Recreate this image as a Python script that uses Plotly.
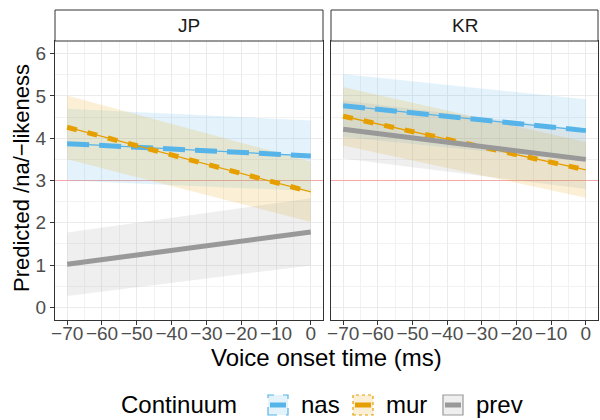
import plotly.graph_objects as go
from plotly.subplots import make_subplots

# ---- data ----
panels = ["JP", "KR"]
continua = ["nas", "mur", "prev"]
vot = [-70, 0]

# predicted line values at vot endpoints
fit = {
    "JP": {"nas": [3.87, 3.58], "mur": [4.26, 2.73], "prev": [1.02, 1.78]},
    "KR": {"nas": [4.77, 4.18], "mur": [4.52, 3.25], "prev": [4.21, 3.50]},
}
lower = {
    "JP": {"nas": [3.00, 2.75], "mur": [3.50, 2.02], "prev": [0.27, 0.99]},
    "KR": {"nas": [4.03, 3.45], "mur": [3.83, 2.59], "prev": [3.52, 2.80]},
}
upper = {
    "JP": {"nas": [4.70, 4.42], "mur": [5.01, 3.45], "prev": [1.77, 2.58]},
    "KR": {"nas": [5.52, 4.92], "mur": [5.21, 3.91], "prev": [4.89, 4.20]},
}
x_ticks = [-70, -60, -50, -40, -30, -20, -10, 0]
y_ticks = [0, 1, 2, 3, 4, 5, 6]
ref_line = 3
legend_title = "Continuum"

# ---- styles ----
colors = {"nas": (86, 180, 233), "mur": (230, 159, 0), "prev": (153, 153, 153)}
dashes = {"nas": "22px,10px", "mur": "10px,11px", "prev": "solid"}
key_border = {"nas": "dash", "mur": "dot", "prev": "solid"}
FONT = "Liberation Sans, Arial, sans-serif"

L, R, T, B, W, H = 55, 2, 41, 100, 600, 420
PW, PH = W - L - R, H - T - B

def px_x(px):
    return (px - L) / PW

def px_y(py):
    return (H - B - py) / PH

def rgb(c, a=1.0):
    return f"rgba({c[0]},{c[1]},{c[2]},{a})"

fig = make_subplots(rows=1, cols=2, shared_yaxes=True, horizontal_spacing=0.0128)

for pi, p in enumerate(panels):
    col = pi + 1
    fig.add_trace(go.Scatter(x=[-73.5, 3.5], y=[ref_line, ref_line], mode="lines",
                             line=dict(color="rgba(248,140,140,0.7)", width=1),
                             showlegend=False, hoverinfo="skip"), row=1, col=col)
    for c in continua:
        fig.add_trace(go.Scatter(x=vot, y=lower[p][c], mode="lines", line=dict(width=0),
                                 showlegend=False, hoverinfo="skip"), row=1, col=col)
        fig.add_trace(go.Scatter(x=vot, y=upper[p][c], mode="lines", line=dict(width=0),
                                 fill="tonexty", fillcolor=rgb(colors[c], 0.16),
                                 showlegend=False, hoverinfo="skip"), row=1, col=col)
    for c in continua:
        if c != "prev":
            fig.add_trace(go.Scatter(x=vot, y=fit[p][c], mode="lines",
                                     line=dict(color=rgb(colors[c]), width=1.3),
                                     showlegend=False, hoverinfo="skip"), row=1, col=col)
        fig.add_trace(go.Scatter(x=vot, y=fit[p][c], mode="lines",
                                 line=dict(color=rgb(colors[c]), width=5, dash=dashes[c]),
                                 showlegend=False, hoverinfo="skip"), row=1, col=col)

axis_common = dict(
    showline=True, mirror=True, linecolor="#333333", linewidth=1,
    showgrid=True, gridcolor="#EBEBEB", gridwidth=1.1,
    ticks="outside", ticklen=4, tickcolor="#333333",
    tickfont=dict(family=FONT, size=19, color="#4D4D4D"),
    zeroline=False,
)
minor_x = dict(dtick=5, tick0=0, showgrid=True, gridcolor="#F2F2F2", gridwidth=0.6)
minor_y = dict(dtick=0.5, tick0=0, showgrid=True, gridcolor="#F2F2F2", gridwidth=0.6)
for ax in ["xaxis", "xaxis2"]:
    fig.layout[ax].update(**axis_common, range=[-73.5, 3.5], tickvals=x_ticks, minor=minor_x,
                          ticklabelstandoff=-8)
for ax in ["yaxis", "yaxis2"]:
    fig.layout[ax].update(**axis_common, range=[-0.3, 6.3], tickvals=y_ticks, minor=minor_y)
fig.layout["yaxis2"].update(showticklabels=False, ticks="")

dom1 = [0, px_x(323)]
dom2 = [px_x(331), 1.0]
fig.layout.xaxis.domain = dom1
fig.layout.xaxis2.domain = dom2

shapes = []
annotations = []
# strips
for dom, p in [(dom1, "JP"), (dom2, "KR")]:
    shapes.append(dict(type="rect", xref="paper", yref="paper", x0=dom[0], x1=dom[1],
                       y0=1.0, y1=px_y(10), line=dict(color="#333333", width=1), fillcolor="white"))
    annotations.append(dict(text=p, xref="paper", yref="paper", x=(dom[0] + dom[1]) / 2,
                            y=(1.0 + px_y(10)) / 2, showarrow=False, xanchor="center",
                            yanchor="middle",
                            font=dict(family=FONT, size=19, color="#1A1A1A")))
# axis titles
annotations.append(dict(text="Voice onset time (ms)", xref="paper", yref="paper", x=px_x(326),
                        y=px_y(357), showarrow=False, xanchor="center", yanchor="middle",
                        font=dict(family=FONT, size=24, color="black")))
annotations.append(dict(text="Predicted /na/−likeness", xref="paper", yref="paper",
                        x=px_x(21), y=px_y(178), showarrow=False, xanchor="center",
                        yanchor="middle", textangle=-90,
                        font=dict(family=FONT, size=22, color="black")))

# legend (drawn manually)
LEG_Y = 405
annotations.append(dict(text=legend_title, xref="paper", yref="paper", x=px_x(119), y=px_y(LEG_Y),
                        showarrow=False, xanchor="left", yanchor="middle",
                        font=dict(family=FONT, size=24, color="black")))
key_x = {"nas": 268, "mur": 353, "prev": 443}
for c in continua:
    x0 = key_x[c]
    shapes.append(dict(type="rect", xref="paper", yref="paper", x0=px_x(x0), x1=px_x(x0 + 20),
                       y0=px_y(LEG_Y + 10), y1=px_y(LEG_Y - 10),
                       line=dict(color=rgb(colors[c]), width=1.2, dash=key_border[c]),
                       fillcolor=rgb(colors[c], 0.16)))
    shapes.append(dict(type="line", xref="paper", yref="paper", x0=px_x(x0 + 2), x1=px_x(x0 + 18),
                       y0=px_y(LEG_Y), y1=px_y(LEG_Y),
                       line=dict(color=rgb(colors[c]), width=5)))
    annotations.append(dict(text=c, xref="paper", yref="paper", x=px_x(x0 + 31), y=px_y(LEG_Y),
                            showarrow=False, xanchor="left", yanchor="middle",
                            font=dict(family=FONT, size=24, color="black")))

fig.update_layout(
    width=W, height=H,
    margin=dict(l=L, r=R, t=T, b=B),
    paper_bgcolor="white", plot_bgcolor="white",
    shapes=shapes, annotations=annotations,
    showlegend=False,
)

fig.write_html("out.html", config={"displayModeBar": False},
               post_script="document.body.style.margin='0px';document.body.style.overflow='hidden';")
